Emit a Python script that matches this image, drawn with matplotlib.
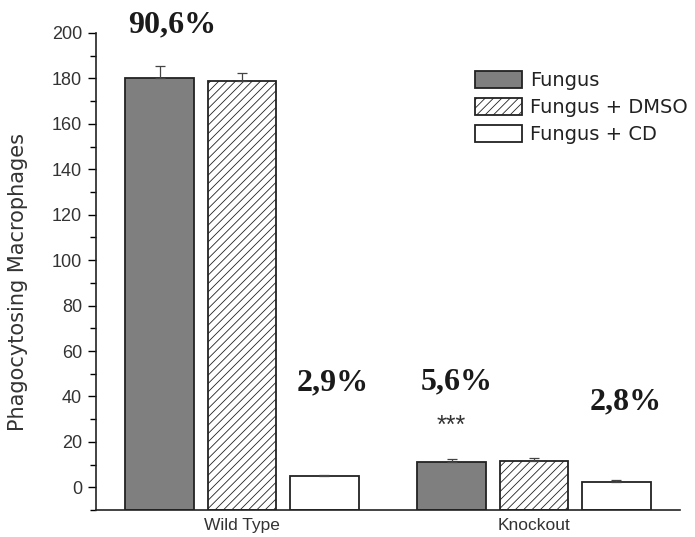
import numpy as np
import matplotlib.pyplot as plt
from matplotlib.ticker import MultipleLocator

groups = ['Wild Type', 'Knockout']
series = ['Fungus', 'Fungus + DMSO', 'Fungus + CD']
means = {
    'Fungus': [180.0, 11.2],
    'Fungus + DMSO': [179.0, 11.4],
    'Fungus + CD': [5.0, 2.2],
}
errs = {
    'Fungus': [5.5, 1.1],
    'Fungus + DMSO': [3.5, 1.5],
    'Fungus + CD': [0.5, 1.2],
}
pct_labels = ['90,6%', '2,9%', '5,6%', '2,8%']
pct_pos = [(-0.24, 203.5), (0.312, 45.8), (0.736, 46.2), (1.315, 37.4)]
star_label = '***'
star_pos = (0.717, 27.0)

styles = {
    'Fungus': dict(facecolor='#7f7f7f', hatch=None),
    'Fungus + DMSO': dict(facecolor='white', hatch='////'),
    'Fungus + CD': dict(facecolor='white', hatch=None),
}

plt.rcParams['font.family'] = ['Liberation Sans', 'DejaVu Sans']
plt.rcParams['hatch.color'] = '#a5a5a5'
plt.rcParams['hatch.linewidth'] = 0.6

fig = plt.figure(figsize=(6.95, 5.37), dpi=100)
ax = fig.add_axes([96/695, 27/537, 584/695, 477/537])

ymin = -10
x = np.arange(len(groups))
pitch = 0.281
width = 0.236
for k, s in enumerate(series):
    pos = x + (k - 1) * pitch
    vals = np.array(means[s])
    ax.bar(pos, vals - ymin, width, bottom=ymin, edgecolor='#222222',
           linewidth=1.3, label=s, zorder=2, **styles[s])
    ax.errorbar(pos, vals, yerr=[np.zeros(len(groups)), errs[s]],
                fmt='none', ecolor='#444444', elinewidth=0.9, capsize=3.5,
                capthick=0.9, zorder=3)

for lab, (px, py) in zip(pct_labels, pct_pos):
    ax.text(px, py, lab, ha='center', va='center', fontsize=23,
            fontweight='bold', family='Liberation Serif', color='#1a1a1a',
            clip_on=False)
ax.text(star_pos[0], star_pos[1], star_label, ha='center', va='center',
        fontsize=18, color='#333333')

ax.set_xlim(-0.5, 1.5)
ax.set_ylim(ymin, 200)
ax.set_xticks(x)
ax.set_xticklabels(groups, fontsize=12.5, color='#333333')
ax.tick_params(axis='x', length=0, pad=6)
ax.yaxis.set_major_locator(MultipleLocator(20))
ax.yaxis.set_minor_locator(MultipleLocator(10))
ax.tick_params(axis='y', which='major', length=6, width=1, labelsize=13,
               labelcolor='#333333', direction='out', pad=4)
ax.tick_params(axis='y', which='minor', length=4.5, width=1, direction='out')
fig.text(18/695, 1 - 282/537, 'Phagocytosing Macrophages', rotation=90,
         ha='center', va='center', fontsize=15, family='DejaVu Sans',
         color='#333333')
for sp in ['top', 'right']:
    ax.spines[sp].set_visible(False)
for sp in ['left', 'bottom']:
    ax.spines[sp].set_linewidth(1.2)
    ax.spines[sp].set_color('#222222')

leg = ax.legend(loc='upper left', bbox_to_anchor=(475/695, 1 - 71/537),
                bbox_transform=fig.transFigure, frameon=False,
                prop={'family': 'DejaVu Sans', 'size': 14},
                handlelength=2.4, handleheight=1.0, labelspacing=0.38,
                handletextpad=0.45, borderpad=0, borderaxespad=0)
for t in leg.get_texts():
    t.set_color('#222222')

fig.savefig('out.png', dpi=100)
